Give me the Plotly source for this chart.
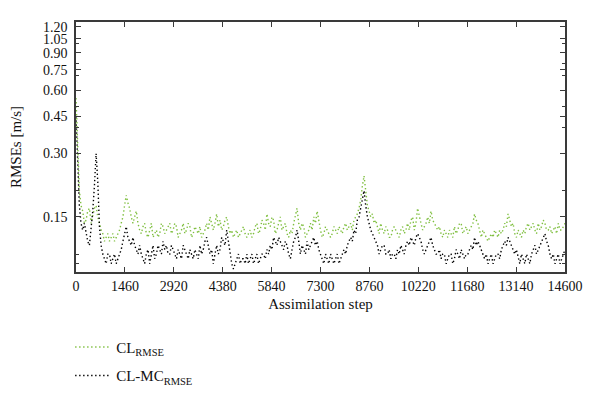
import plotly.graph_objects as go

# Assimilation steps (one value per 50 steps)
steps = list(range(0, 14601, 50))

cl_rmse = [
    0.55, 0.30, 0.20, 0.17, 0.16, 0.14, 0.145, 0.16, 0.165, 0.14,
    0.15, 0.165, 0.17, 0.15, 0.14, 0.13, 0.125, 0.115, 0.12, 0.125,
    0.115, 0.12, 0.125, 0.115, 0.12, 0.125, 0.13, 0.14, 0.15, 0.17,
    0.19, 0.175, 0.165, 0.15, 0.14, 0.15, 0.16, 0.14, 0.13, 0.125,
    0.135, 0.14, 0.125, 0.12, 0.13, 0.14, 0.12, 0.125, 0.13, 0.12,
    0.125, 0.14, 0.135, 0.125, 0.13, 0.135, 0.14, 0.125, 0.13, 0.14,
    0.135, 0.12, 0.125, 0.13, 0.14, 0.125, 0.13, 0.14, 0.135, 0.12,
    0.125, 0.135, 0.13, 0.125, 0.135, 0.12, 0.125, 0.13, 0.14, 0.13,
    0.15, 0.14, 0.13, 0.14, 0.155, 0.135, 0.145, 0.13, 0.135, 0.145,
    0.15, 0.135, 0.125, 0.13, 0.12, 0.125, 0.13, 0.12, 0.125, 0.13,
    0.135, 0.125, 0.12, 0.125, 0.13, 0.12, 0.125, 0.135, 0.14, 0.125,
    0.13, 0.145, 0.14, 0.13, 0.155, 0.14, 0.135, 0.15, 0.145, 0.125,
    0.13, 0.14, 0.15, 0.13, 0.135, 0.14, 0.125, 0.12, 0.13, 0.125,
    0.14, 0.15, 0.165, 0.14, 0.13, 0.14, 0.135, 0.12, 0.125, 0.13,
    0.14, 0.13, 0.15, 0.14, 0.16, 0.14, 0.13, 0.12, 0.125, 0.135,
    0.13, 0.125, 0.12, 0.125, 0.135, 0.13, 0.125, 0.135, 0.13, 0.125,
    0.135, 0.14, 0.13, 0.135, 0.14, 0.13, 0.145, 0.15, 0.155, 0.165,
    0.18, 0.21, 0.235, 0.20, 0.17, 0.16, 0.15, 0.155, 0.14, 0.145,
    0.135, 0.125, 0.14, 0.13, 0.125, 0.135, 0.13, 0.12, 0.12, 0.13,
    0.135, 0.13, 0.125, 0.12, 0.13, 0.135, 0.125, 0.13, 0.14, 0.13,
    0.145, 0.15, 0.13, 0.14, 0.165, 0.15, 0.14, 0.13, 0.135, 0.14,
    0.15, 0.14, 0.16, 0.145, 0.14, 0.135, 0.13, 0.135, 0.125, 0.12,
    0.13, 0.125, 0.12, 0.13, 0.125, 0.12, 0.135, 0.125, 0.13, 0.14,
    0.14, 0.125, 0.13, 0.135, 0.125, 0.13, 0.135, 0.14, 0.155, 0.145,
    0.14, 0.13, 0.12, 0.13, 0.125, 0.12, 0.115, 0.12, 0.125, 0.12,
    0.13, 0.125, 0.12, 0.13, 0.125, 0.13, 0.14, 0.135, 0.155, 0.145,
    0.135, 0.14, 0.125, 0.12, 0.13, 0.125, 0.12, 0.13, 0.125, 0.135,
    0.14, 0.13, 0.135, 0.14, 0.13, 0.125, 0.14, 0.13, 0.135, 0.145,
    0.14, 0.13, 0.13, 0.135, 0.125, 0.13, 0.135, 0.125, 0.14, 0.13,
    0.13, 0.135, 0.14,
]

cl_mc_rmse = [
    0.45, 0.25, 0.17, 0.14, 0.13, 0.14, 0.125, 0.115, 0.11, 0.13,
    0.16, 0.21, 0.30, 0.22, 0.135, 0.11, 0.10, 0.095, 0.09, 0.10,
    0.10, 0.09, 0.095, 0.10, 0.09, 0.095, 0.10, 0.105, 0.115, 0.125,
    0.135, 0.12, 0.115, 0.11, 0.12, 0.11, 0.105, 0.10, 0.11, 0.10,
    0.095, 0.09, 0.10, 0.105, 0.09, 0.10, 0.11, 0.095, 0.10, 0.11,
    0.105, 0.10, 0.115, 0.105, 0.11, 0.10, 0.10, 0.11, 0.105, 0.10,
    0.095, 0.105, 0.10, 0.095, 0.11, 0.105, 0.10, 0.095, 0.105, 0.10,
    0.095, 0.105, 0.10, 0.095, 0.11, 0.10, 0.105, 0.115, 0.12, 0.11,
    0.10, 0.105, 0.09, 0.10, 0.11, 0.10, 0.105, 0.12, 0.115, 0.11,
    0.13, 0.115, 0.10, 0.09, 0.085, 0.09, 0.095, 0.10, 0.09, 0.095,
    0.095, 0.09, 0.10, 0.09, 0.095, 0.10, 0.09, 0.095, 0.10, 0.09,
    0.095, 0.10, 0.10, 0.095, 0.105, 0.10, 0.11, 0.105, 0.12, 0.115,
    0.11, 0.12, 0.115, 0.11, 0.105, 0.115, 0.11, 0.10, 0.095, 0.105,
    0.115, 0.12, 0.13, 0.115, 0.10, 0.11, 0.105, 0.10, 0.115, 0.105,
    0.11, 0.115, 0.12, 0.11, 0.115, 0.105, 0.10, 0.095, 0.09, 0.10,
    0.095, 0.09, 0.10, 0.095, 0.09, 0.095, 0.10, 0.09, 0.095, 0.10,
    0.105, 0.10, 0.11, 0.115, 0.12, 0.115, 0.13, 0.125, 0.145, 0.15,
    0.165, 0.18, 0.20, 0.17, 0.15, 0.14, 0.13, 0.125, 0.12, 0.115,
    0.11, 0.10, 0.105, 0.11, 0.11, 0.10, 0.10, 0.105, 0.095, 0.10,
    0.10, 0.095, 0.105, 0.10, 0.11, 0.105, 0.10, 0.11, 0.115, 0.11,
    0.12, 0.115, 0.11, 0.12, 0.125, 0.12, 0.115, 0.105, 0.10, 0.105,
    0.11, 0.115, 0.12, 0.11, 0.105, 0.10, 0.10, 0.105, 0.095, 0.10,
    0.10, 0.09, 0.095, 0.10, 0.10, 0.09, 0.095, 0.105, 0.10, 0.095,
    0.105, 0.10, 0.095, 0.10, 0.10, 0.105, 0.11, 0.105, 0.12, 0.11,
    0.115, 0.11, 0.105, 0.10, 0.095, 0.10, 0.09, 0.095, 0.10, 0.09,
    0.095, 0.10, 0.10, 0.095, 0.105, 0.11, 0.115, 0.11, 0.12, 0.115,
    0.11, 0.105, 0.10, 0.105, 0.095, 0.09, 0.10, 0.095, 0.09, 0.10,
    0.095, 0.09, 0.10, 0.105, 0.11, 0.10, 0.105, 0.11, 0.115, 0.12,
    0.125, 0.115, 0.11, 0.10, 0.095, 0.10, 0.09, 0.095, 0.10, 0.09,
    0.095, 0.10, 0.105,
]

x_ticks = [0, 1460, 2920, 4380, 5840, 7300, 8760, 10220, 11680, 13140, 14600]
x_tick_text = [str(v) for v in x_ticks]
y_ticks = [0.15, 0.30, 0.45, 0.60, 0.75, 0.90, 1.05, 1.20]
y_tick_text = ["0.15", "0.30", "0.45", "0.60", "0.75", "0.90", "1.05", "1.20"]
y_minor = [0.09, 0.1, 0.2, 0.4, 0.5, 0.7, 0.8, 1.0]

FONT = "Liberation Serif"
AX = "#3a3a3a"

fig = go.Figure()
fig.add_trace(go.Scatter(
    x=steps, y=cl_rmse, mode="lines", name="CL<sub>RMSE</sub>",
    line=dict(color="#7fbf3f", width=1.4, dash="1.4px,2.6px"),
    legendgroup="a",
))
fig.add_trace(go.Scatter(
    x=steps, y=cl_mc_rmse, mode="lines", name="CL-MC<sub>RMSE</sub>",
    line=dict(color="#000000", width=1.4, dash="1.4px,2.6px"),
    legendgroup="b",
))

fig.update_layout(
    width=600, height=399,
    margin=dict(l=68, r=43, t=14, b=135, autoexpand=False),
    paper_bgcolor="white", plot_bgcolor="white",
    font=dict(family=FONT, size=14, color="#111"),
    showlegend=True,
    legend=dict(
        x=-0.012, xanchor="left", y=-0.235, yanchor="top",
        font=dict(family=FONT, size=15, color="#111"),
        traceorder="grouped", tracegroupgap=6, itemwidth=36,
        bgcolor="rgba(0,0,0,0)",
    ),
    xaxis=dict(
        range=[0, 14600], tickmode="array", tickvals=x_ticks, ticktext=x_tick_text,
        ticks="inside", ticklen=5, tickwidth=1.2, tickcolor=AX,
        showline=True, linecolor=AX, linewidth=1.5, mirror="ticks",
        showgrid=False, zeroline=False, automargin=False,
        tickfont=dict(family=FONT, size=14),
        title=dict(text="Assimilation step", font=dict(family=FONT, size=15), standoff=6),
    ),
    yaxis=dict(
        type="log", range=[-1.085, 0.101],
        tickmode="array", tickvals=y_ticks, ticktext=y_tick_text,
        ticks="inside", ticklen=5, tickwidth=1.2, tickcolor=AX,
        minor=dict(tickmode="array", tickvals=y_minor, ticks="inside",
                   ticklen=3, tickwidth=1, tickcolor=AX, showgrid=False),
        showline=True, linecolor=AX, linewidth=1.5, mirror="ticks",
        showgrid=False, zeroline=False, automargin=False,
        ticklabelstandoff=4,
        tickfont=dict(family=FONT, size=14),
        title=dict(text="RMSEs [m/s]", font=dict(family=FONT, size=15), standoff=22),
    ),
)

fig.write_html("out.html")
